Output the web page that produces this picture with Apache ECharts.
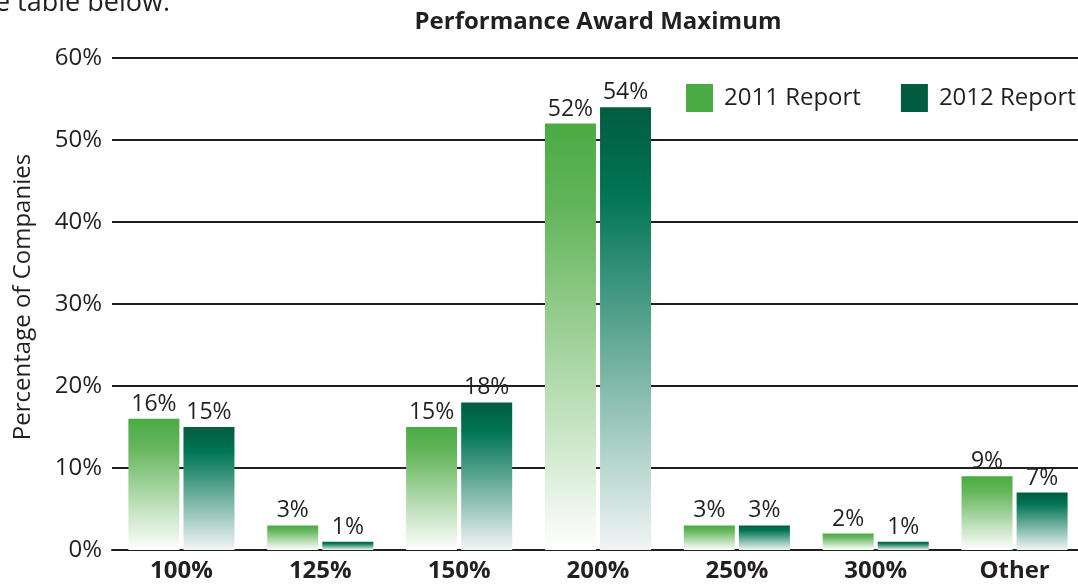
<!DOCTYPE html>
<html lang="en">
	<head>
		<meta charset="UTF-8"/>
		<title>Performance Award Maximum</title>
		<script src="https://cdn.jsdelivr.net/npm/echarts@6/dist/echarts.min.js"></script>
		<style>
			html, body { margin: 0; padding: 0; background: #fff; }
		</style>
	</head>
	<body>
		<div id="main" style="width: 1078px;height: 585px;"></div>
		<script type="text/javascript">
			var categories = ['100%', '125%', '150%', '200%', '250%', '300%', 'Other'];
			var report2011 = [16, 3, 15, 52, 3, 2, 9];
			var report2012 = [15, 1, 18, 54, 3, 1, 7];
			var yTicks = [0, 10, 20, 30, 40, 50, 60];

			var font = 'Open Sans';
			var ink = '#231f20';

			// each bar fades to white at its foot
			function fade(top, mid, bottom) {
				return new echarts.graphic.LinearGradient(0, 0, 0, 1, [
					{ offset: 0, color: top },
					{ offset: 0.2, color: mid },
					{ offset: 1, color: bottom }
				]);
			}

			var myChart = echarts.init(document.getElementById('main'));
			var option = {
				backgroundColor: '#fff',
				animation: false,
				title: {
					text: 'Performance Award Maximum',
					left: 593,
					textAlign: 'center',
					top: 5,
					textStyle: { fontFamily: font, fontSize: 24, fontWeight: 'bold', color: ink }
				},
				graphic: [{
					type: 'text',
					x: 170,
					y: 17,
					style: { text: 'the table below.', font: '27px "Open Sans"', fill: ink, align: 'right', verticalAlign: 'bottom' }
				}],
				legend: {
					data: [
						{ name: '2011 Report', itemStyle: { color: '#4aab44' } },
						{ name: '2012 Report', itemStyle: { color: '#035c3f' } }
					],
					orient: 'horizontal',
					left: 681,
					top: 79,
					width: 420,
					icon: 'rect',
					itemWidth: 27,
					itemHeight: 28,
					itemGap: 40,
					textStyle: { fontFamily: font, fontSize: 24, color: ink, padding: [0, 0, 0, 6] }
				},
				// plot runs a little past the right edge, as in the source
				grid: { left: 112, right: -6, top: 58, bottom: 35, outerBoundsMode: 'none' },
				xAxis: {
					type: 'category',
					data: categories,
					axisLine: { lineStyle: { color: ink, width: 2 } },
					axisTick: { show: false },
					axisLabel: { fontFamily: font, fontSize: 24, fontWeight: 'bold', color: ink, margin: 9 }
				},
				yAxis: {
					type: 'value',
					min: yTicks[0],
					max: yTicks[yTicks.length - 1],
					interval: 10,
					name: 'Percentage of Companies',
					nameLocation: 'middle',
					nameGap: 77,
					nameRotate: 90,
					nameTextStyle: { fontFamily: font, fontSize: 24, color: ink, padding: [0, 0, 0, 14] },
					axisLine: { show: false },
					axisTick: { show: false },
					axisLabel: { formatter: '{value}%', fontFamily: font, fontSize: 24, color: ink, margin: 10 },
					splitLine: { lineStyle: { color: ink, width: 2 } }
				},
				series: [
					{
						name: '2011 Report',
						type: 'bar',
						data: report2011,
						barWidth: 51,
						barGap: '8%',
						itemStyle: { color: fade('#4aab44', '#63b55a', '#ffffff') },
						label: { show: true, position: 'top', distance: 3, formatter: '{c}%', fontFamily: font, fontSize: 23, color: ink }
					},
					{
						name: '2012 Report',
						type: 'bar',
						data: report2012,
						barWidth: 51,
						itemStyle: { color: fade('#035c3f', '#007555', '#f2f5f5') },
						label: { show: true, position: 'top', distance: 3, formatter: '{c}%', fontFamily: font, fontSize: 23, color: ink }
					}
				]
			};
			myChart.setOption(option);
		</script>
	</body>
</html>
